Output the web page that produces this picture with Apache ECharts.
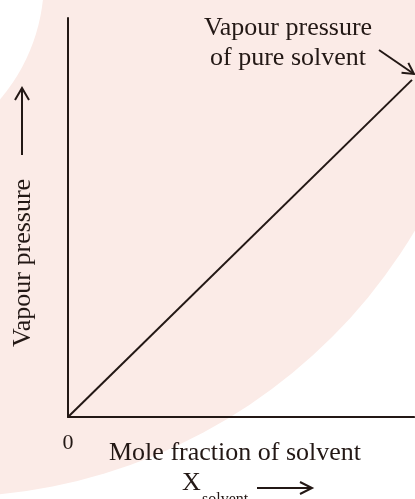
<!DOCTYPE html>
<html>
<head>
<meta charset="utf-8">
<script src="https://cdn.jsdelivr.net/npm/echarts@6/dist/echarts.min.js"></script>
<style>
  html, body { margin: 0; padding: 0; background: #fff; }
  #chart { width: 415px; height: 499px; }
</style>
</head>
<body>
<div id="chart"></div>
<script>
// mole fraction of solvent (0 = pure solute, 1 = pure solvent)
var xSolvent = [0, 1];
// vapour pressure, relative to top of the y axis
var vapourPressure = [0, 0.845];
var xTickLabels = ['0'];

var ink = '#231815';
var serif = 'Liberation Serif, Times New Roman, serif';

var chart = echarts.init(document.getElementById('chart'), null, { renderer: 'canvas' });

function arrow(x1, y1, x2, y2, head, half) {
    // straight arrow with open head at (x2, y2)
    var a = Math.atan2(y2 - y1, x2 - x1);
    var bx = x2 - head * Math.cos(a), by = y2 - head * Math.sin(a);
    var px = -Math.sin(a) * half, py = Math.cos(a) * half;
    return [
        { type: 'line', z: 10, shape: { x1: x1, y1: y1, x2: x2, y2: y2 },
          style: { stroke: ink, lineWidth: 2 } },
        { type: 'polyline', z: 10,
          shape: { points: [[bx + px, by + py], [x2, y2], [bx - px, by - py]] },
          style: { stroke: ink, lineWidth: 2, fill: null } }
    ];
}

var option = {
    backgroundColor: '#fff',
    animation: false,
    grid: { left: 68, right: 0, top: 18, bottom: 82 },
    xAxis: {
        type: 'value',
        min: 0,
        max: 1.006,
        interval: 1,
        axisLine: { show: true, lineStyle: { color: ink, width: 2 } },
        axisTick: { show: false },
        splitLine: { show: false },
        axisLabel: {
            margin: 15,
            fontFamily: serif,
            fontSize: 22,
            color: ink,
            showMaxLabel: false,
            formatter: function (v) { return v === 0 ? xTickLabels[0] : ''; }
        }
    },
    yAxis: {
        type: 'value',
        min: 0,
        max: 1,
        axisLine: { show: true, lineStyle: { color: ink, width: 2 } },
        axisTick: { show: false },
        splitLine: { show: false },
        axisLabel: { show: false }
    },
    series: [{
        type: 'line',
        data: xSolvent.map(function (x, i) { return [x, vapourPressure[i]]; }),
        symbol: 'none',
        lineStyle: { color: ink, width: 2 },
        z: 5
    }],
    graphic: [
        // faint watermark band behind the plot
        { type: 'circle', z: -100, silent: true, shape: { cx: -54, cy: -49, r: 546 },
          style: { fill: '#fbebe7' } },
        { type: 'circle', z: -99, silent: true, shape: { cx: -140, cy: -20, r: 184 },
          style: { fill: '#fff' } },
        { type: 'text', z: 10, x: 23, y: 263, rotation: Math.PI / 2,
          style: { text: 'Vapour pressure', fontFamily: serif, fontSize: 26, fill: ink,
                   align: 'center', verticalAlign: 'middle' } },
        { type: 'text', z: 10, x: 288, y: 28,
          style: { text: 'Vapour pressure', fontFamily: serif, fontSize: 26, fill: ink,
                   align: 'center', verticalAlign: 'middle' } },
        { type: 'text', z: 10, x: 288, y: 58,
          style: { text: 'of pure solvent', fontFamily: serif, fontSize: 26, fill: ink,
                   align: 'center', verticalAlign: 'middle' } },
        { type: 'text', z: 10, x: 235, y: 453,
          style: { text: 'Mole fraction of solvent', fontFamily: serif, fontSize: 26, fill: ink,
                   align: 'center', verticalAlign: 'middle' } },
        { type: 'text', z: 10, x: 182, y: 483,
          style: { text: 'X', fontFamily: serif, fontSize: 26, fill: ink,
                   align: 'left', verticalAlign: 'middle' } },
        { type: 'text', z: 10, x: 202, y: 500,
          style: { text: 'solvent', fontFamily: serif, fontSize: 16, fill: ink,
                   align: 'left', verticalAlign: 'middle' } }
    ]
        .concat(arrow(22, 155, 22, 88, 12, 7))
        .concat(arrow(257, 488, 312, 488, 12, 6))
        .concat(arrow(379, 50, 414, 74, 11, 6))
};

chart.setOption(option);
</script>
</body>
</html>
